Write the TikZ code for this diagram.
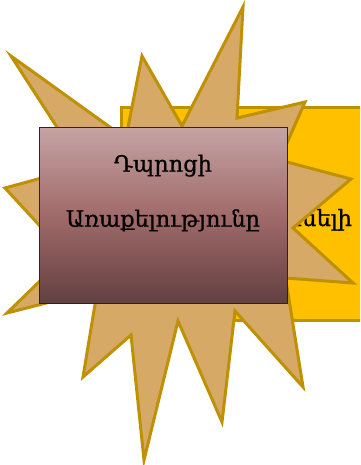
\documentclass[tikz,border=0pt]{standalone}
\usepackage{fontspec}
\newfontfamily\armfont[FakeBold=0.8]{DejaVu Serif}
\definecolor{goldline}{HTML}{BF9000}
\definecolor{goldfill}{HTML}{FFC000}
\definecolor{tanfill}{HTML}{D6AA66}
\definecolor{boxtop}{HTML}{C5A3A3}
\definecolor{boxmid}{HTML}{A06A6A}
\definecolor{boxbot}{HTML}{634040}
\tikzset{
  yellowbox/.style={draw=goldline, fill=goldfill, line width=3pt},
  burst/.style={draw=goldline, fill=tanfill, line width=3pt, line join=miter, miter limit=20},
  missionbox/.style={draw=black!85, line width=1pt, rectangle, inner sep=0pt,
    top color=boxtop, bottom color=boxbot, middle color=boxmid,
    minimum width=248pt, minimum height=175pt},
  armtext/.style={font=\armfont\fontsize{22.5}{26}\selectfont, text=black, inner sep=0pt}
}
\begin{document}
\begin{tikzpicture}[x=1pt, y=-1pt]
\useasboundingbox (0,0) rectangle (360,465);
\clip (0,0) rectangle (360,465);
% yellow box behind
\path[yellowbox] (121,108) rectangle (440,320);
\node[armtext, anchor=base west] (visiontext) at (302,226) {\llap{Սպա}սելի};
% starburst
\draw[burst] (243,7) -- (237,118) -- (305,102) -- (279.5,160) -- (351,179) -- (293,228)
  -- (353,283) -- (285.6,278) -- (303,387) -- (235,311) -- (222,422) -- (178,321)
  -- (144,460) -- (131,335) -- (83,377) -- (97.4,290) -- (7,313) -- (66.7,255)
  -- (5,188) -- (82.6,166.8) -- (11,56) -- (125.8,138.5) -- (142,56) -- (182,126) -- cycle;
% mission box
\node[missionbox] (mission) at (163,215.5) {};
\node[armtext, anchor=base] (line1) at (163,171.7) {Դպրոցի};
\node[armtext, anchor=base] (line2) at (163,226.7) {Առաքելությունը};
\end{tikzpicture}
\end{document}
